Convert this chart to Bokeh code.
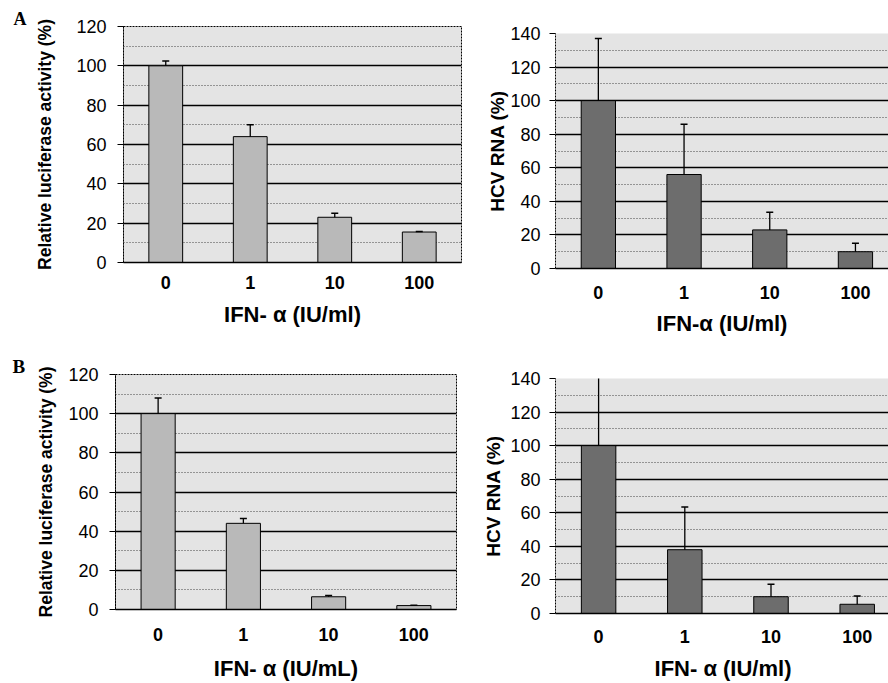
from bokeh.plotting import figure
from bokeh.layouts import column, row
from bokeh.models import Range1d, FixedTicker
from bokeh.embed import file_html
from bokeh.resources import INLINE

# ---- data ----
doses = ["0", "1", "10", "100"]

a_luc = [100, 64, 23, 15.5]
a_luc_err = [102.5, 70, 25, 15.8]

a_rna = [100, 56, 23, 10]
a_rna_err = [137, 86, 33.5, 15]

b_luc = [100, 44, 6.5, 2]
b_luc_err = [108, 46.5, 7.2, 2.2]

b_rna = [100, 38, 10, 5.5]
b_rna_err = [145, 63.5, 17.5, 10.5]

luc_ticks = [0, 20, 40, 60, 80, 100, 120]
rna_ticks = [0, 20, 40, 60, 80, 100, 120, 140]

FONT = "Liberation Sans"
BG = "#e4e4e4"


def panel(vals, errs, ticks, bar_color, ylabel, xlabel, frame_w, frame_h,
          bl, bt, bb, br, xend, ylabel_size, ylabel_standoff, ytick_standoff,
          xtick_standoff, xlabel_standoff, letter="", letter_offset=0,
          letter_size="18px", letter_standoff=0, outline=True):
    ymax = ticks[-1]
    p = figure(frame_width=frame_w, frame_height=frame_h,
               min_border_left=bl, min_border_top=bt, min_border_bottom=bb,
               min_border_right=br,
               x_range=Range1d(0, xend), y_range=Range1d(0, ymax),
               output_backend="svg", toolbar_location=None, tools="")
    p.background_fill_color = BG
    p.border_fill_color = "white"
    if outline:
        p.outline_line_color = "black"
        p.outline_line_dash = "2 1"
        p.outline_line_width = 1
    else:
        p.outline_line_color = None

    xs = [i + 0.5 for i in range(len(doses))]
    p.vbar(x=xs, top=vals, bottom=0, width=0.4, fill_color=bar_color,
           line_color="black", line_width=1)
    p.segment(x0=xs, y0=vals, x1=xs, y1=errs, line_color="black",
              line_width=1.3)
    p.dash(x=xs, y=errs, size=7, line_color="black", line_width=1.5)

    # grids
    p.xgrid.grid_line_color = None
    minor = [t + 10 for t in ticks[:-1]]
    p.yaxis.ticker = FixedTicker(ticks=ticks, minor_ticks=minor)
    p.ygrid.grid_line_color = "black"
    p.ygrid.grid_line_width = 1.6
    p.ygrid.minor_grid_line_color = "#444444"
    p.ygrid.minor_grid_line_dash = "1 2"
    p.ygrid.minor_grid_line_width = 1

    # x axis
    p.xaxis.ticker = FixedTicker(ticks=xs)
    p.xaxis.major_label_overrides = {x: d for x, d in zip(xs, doses)}
    p.xaxis.major_tick_line_color = None
    p.xaxis.minor_tick_line_color = None
    p.xaxis.axis_line_color = "black"
    p.xaxis.axis_line_width = 1.5
    p.xaxis.major_label_text_font = FONT
    p.xaxis.major_label_text_font_style = "bold"
    p.xaxis.major_label_text_font_size = "18px"
    p.xaxis.major_label_text_color = "black"
    p.xaxis.major_label_standoff = xtick_standoff
    p.xaxis.axis_label = xlabel
    p.xaxis.axis_label_text_font = FONT
    p.xaxis.axis_label_text_font_style = "bold"
    p.xaxis.axis_label_text_font_size = "22px"
    p.xaxis.axis_label_text_color = "black"
    p.xaxis.axis_label_standoff = xlabel_standoff

    # y axis
    p.yaxis.axis_line_color = "black"
    p.yaxis.axis_line_width = 1
    p.yaxis.axis_line_dash = "2 1"
    p.yaxis.major_tick_out = 6
    p.yaxis.major_tick_in = 0
    p.yaxis.major_tick_line_color = "black"
    p.yaxis.minor_tick_line_color = None
    p.yaxis.major_label_text_font = FONT
    p.yaxis.major_label_text_font_size = "18px"
    p.yaxis.major_label_text_color = "black"
    p.yaxis.major_label_standoff = ytick_standoff
    p.yaxis.axis_label = ylabel
    p.yaxis.axis_label_text_font = FONT
    p.yaxis.axis_label_text_font_style = "bold"
    p.yaxis.axis_label_text_font_size = ylabel_size
    p.yaxis.axis_label_text_color = "black"
    p.yaxis.axis_label_standoff = ylabel_standoff

    if letter:
        p.title.text = letter
        p.title.align = "left"
        p.title.offset = letter_offset
        p.title.standoff = letter_standoff
        p.title.text_font = "Liberation Serif"
        p.title.text_font_style = "bold"
        p.title.text_font_size = letter_size
        p.title.text_color = "black"
    return p


LUC_BAR = "#b9b9b9"
RNA_BAR = "#6d6d6d"

pAL = panel(a_luc, a_luc_err, luc_ticks, LUC_BAR,
            "Relative luciferase activity (%)", "IFN- \u03b1 (IU/ml)",
            338, 236, 123, 26, 75, 21, 4, "17.5px", 18, 11, 7, 10,
            letter="A", letter_offset=-110, letter_size="18px",
            letter_standoff=-5)
pAR = panel(a_rna, a_rna_err, rna_ticks, RNA_BAR,
            "HCV RNA (%)", "IFN-\u03b1 (IU/ml)",
            333, 235, 73, 33, 69, 0, 333 / 85.7, "19px", -1, 9, 11, 9,
            outline=False)
pBL = panel(b_luc, b_luc_err, luc_ticks, LUC_BAR,
            "Relative luciferase activity (%)", "IFN- \u03b1 (IU/mL)",
            341, 235, 115, 36, 73, 24, 4, "17.5px", 9, 11, 12, 12,
            letter="B", letter_offset=-103, letter_size="19px",
            letter_standoff=-4)
pBR = panel(b_rna, b_rna_err, rna_ticks, RNA_BAR,
            "HCV RNA (%)", "IFN- \u03b1 (IU/ml)",
            335, 235, 73, 40, 69, 0, 335 / 86.2, "19px", 3, 9, 10, 10,
            outline=False)

# each figure wrapped on its own so that frames are not aligned across a row
layout = column(row(column(pAL), column(pAR)),
                row(column(pBL), column(pBR)))
open("out.html", "w").write(file_html(layout, INLINE))
